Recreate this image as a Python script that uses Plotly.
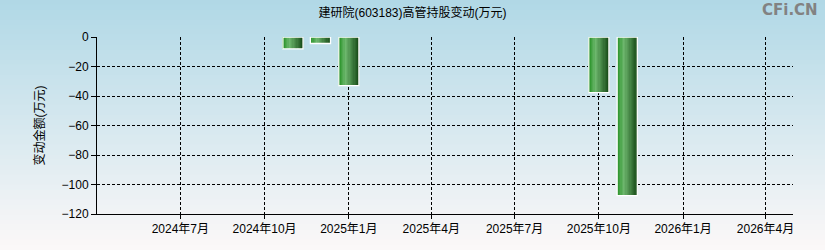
import plotly.graph_objects as go
from datetime import datetime, timedelta

# ---- data ----
dates = ["2024-11-01", "2024-12-01", "2025-01-01", "2025-10-01", "2025-11-01"]
values = [-8.0, -4.4, -33.0, -37.7, -107.5]
xtick_vals = ["2024-07-01", "2024-10-01", "2025-01-01", "2025-04-01",
              "2025-07-01", "2025-10-01", "2026-01-01", "2026-04-01"]
xtick_text = ["2024年7月", "2024年10月", "2025年1月", "2025年4月",
              "2025年7月", "2025年10月", "2026年1月", "2026年4月"]
ytick_vals = [0, -20, -40, -60, -80, -100, -120]
title = "建研院(603183)高管持股变动(万元)"
ytitle = "变动金额(万元)"

W, H = 825, 250
L, R, T, B = 97, 32, 37, 36

DAY = 86400000
bar_w = 22 * DAY


def lerp(c1, c2, t):
    return tuple(round(a + (b - a) * t) for a, b in zip(c1, c2))


# bar gradient stops (left -> right)
stops = [(0.0, (30, 140, 30)), (0.35, (110, 184, 110)), (1.0, (24, 76, 24))]


def grad_color(t):
    for (p0, c0), (p1, c1) in zip(stops[:-1], stops[1:]):
        if p0 <= t <= p1:
            return lerp(c0, c1, (t - p0) / (p1 - p0))
    return stops[-1][1]


fig = go.Figure()
N = 16
for i in range(N):
    c = grad_color((i + 0.5) / N)
    fig.add_trace(go.Bar(
        x=dates, y=values,
        width=[bar_w / N * 1.15] * len(dates),
        offset=[-bar_w / 2 + i * bar_w / N] * len(dates),
        marker=dict(color="rgb(%d,%d,%d)" % c, line=dict(width=0)),
        showlegend=False, hoverinfo="skip",
    ))
# outline
fig.add_trace(go.Bar(
    x=dates, y=values,
    width=[bar_w] * len(dates),
    offset=[-bar_w / 2] * len(dates),
    marker=dict(color="rgba(0,0,0,0)", line=dict(color="white", width=1.3)),
    showlegend=False,
))

# background gradient bands
pw = W - L - R
ph = H - T - B
top_c = (176, 216, 230)
bot_c = (252, 248, 248)
shapes = []
nb = 50
for k in range(nb):
    y0p = k * H / nb
    y1p = (k + 1) * H / nb
    c = lerp(top_c, bot_c, (k + 0.5) / nb)
    shapes.append(dict(
        type="rect", xref="paper", yref="paper", layer="below",
        x0=-L / pw, x1=(W - L) / pw,
        y0=(H - B - y1p) / ph, y1=(H - B - y0p) / ph + 0.001,
        fillcolor="rgb(%d,%d,%d)" % c, line=dict(width=0),
    ))

font_main = "Liberation Sans, Arial, Noto Sans CJK SC, sans-serif"

fig.update_layout(
    width=W, height=H,
    margin=dict(l=L, r=R, t=T, b=B, pad=0),
    barmode="overlay",
    paper_bgcolor="rgb(230,240,245)",
    plot_bgcolor="rgba(0,0,0,0)",
    shapes=shapes,
    font=dict(family=font_main, size=12, color="black"),
    title=dict(text=title, x=0.5, xanchor="center", y=1 - 13 / H, yanchor="middle",
               font=dict(family=font_main, size=12, color="black")),
    xaxis=dict(
        type="date",
        range=["2024-04-01", "2026-05-01"],
        tickvals=xtick_vals, ticktext=xtick_text,
        showgrid=True, gridcolor="black", gridwidth=1, griddash="3px,2px",
        showline=True, linecolor="black", linewidth=1,
        ticks="outside", ticklen=4, tickcolor="black",
        tickfont=dict(size=12, color="black"),
        zeroline=False,
    ),
    yaxis=dict(
        range=[-120, 0],
        tickvals=ytick_vals,
        showgrid=True, gridcolor="black", gridwidth=1, griddash="3px,2px",
        showline=True, linecolor="black", linewidth=1,
        ticks="outside", ticklen=5, tickcolor="black",
        tickfont=dict(size=12, color="black"),
        zeroline=False,
        title=dict(text=ytitle, standoff=14, font=dict(size=12, color="black")),
    ),
    annotations=[dict(
        text="<b>CFi.CN</b>", xref="paper", yref="paper",
        x=(W - 5 - L) / pw, y=(H - B - 10) / ph, xanchor="right", yanchor="middle",
        showarrow=False, font=dict(family="DejaVu Sans, sans-serif", size=15, color="rgb(130,130,130)"),
    )],
)

fig.write_html("out.html")
